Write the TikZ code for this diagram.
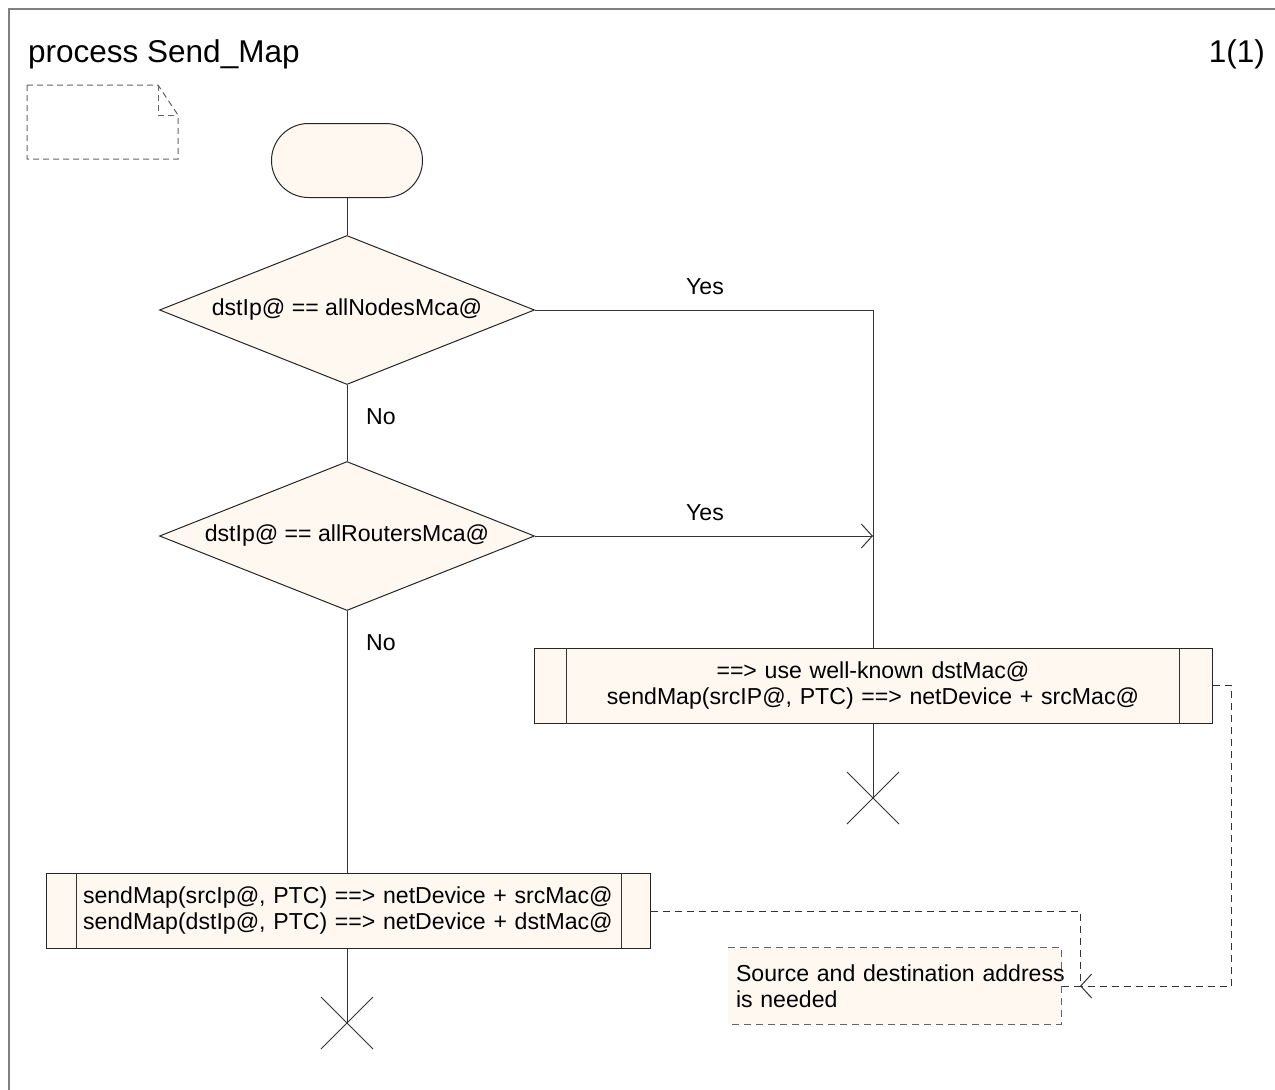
\documentclass[tikz,border=0pt]{standalone}
\usepackage{fontspec}
\setmainfont{Liberation Sans}
\usetikzlibrary{shapes.geometric,arrows.meta}

\definecolor{sdlfill}{RGB}{254,248,241}
\definecolor{framegray}{RGB}{128,128,128}
\definecolor{dashgray}{RGB}{100,100,100}

\begin{document}
\begin{tikzpicture}[x=1pt,y=-1pt,
  every node/.style={font=\fontsize{23.1}{26}\selectfont},
  flow/.style={line width=1pt, draw=black!80},
  sym/.style={draw=black!85, line width=1pt, fill=sdlfill},
  decision/.style={sym, diamond, aspect=2.5, inner sep=0pt,
                   minimum width=375pt, minimum height=149pt},
  startsym/.style={sym, rectangle, rounded corners=37pt,
                   minimum width=151pt, minimum height=74pt},
  proc/.style={sym, rectangle, inner ysep=0pt, minimum height=75pt},
  lbl/.style={inner sep=0pt},
  titletext/.style={inner sep=0pt, font=\fontsize{31.5}{36}\selectfont},
  notesym/.style={draw=dashgray, line width=1pt, dash pattern=on 6pt off 4pt},
  commentbox/.style={fill=sdlfill, inner xsep=8pt, inner ysep=0pt,
                     text width=317pt, align=left, minimum height=76pt},
  commentline/.style={draw=dashgray, line width=1pt, dash pattern=on 7pt off 5pt},
  conn/.style={draw=black!80, line width=1pt, dash pattern=on 7pt off 5pt},
  barb/.style={-{Straight Barb[length=11pt,width=24pt,line width=1pt]}}
]
  % page area and frame
  \useasboundingbox (0,0) rectangle (1275,1090);
  \clip (0,0) rectangle (1275,1090);
  \fill[white] (0,0) rectangle (1275,1090);
  \draw[framegray, line width=2pt] (9,9) rectangle (1320,1120);

  % heading
  \node[titletext, anchor=base west] (title) at (28,62) {process Send\_Map};
  \node[titletext, anchor=base east] (page) at (1265,62) {1(1)};

  % text symbol (empty declaration note)
  \draw[notesym] (27,85) -- (158,85) -- (178,115) -- (178,159) -- (27,159) -- cycle;
  \draw[notesym] (158,85) -- (158,115) -- (178,115);

  % symbols
  \node[startsym] (start) at (347,160.5) {};
  \node[decision] (d1) at (347,310) {dstIp@ == allNodesMca@};
  \node[decision] (d2) at (347,536) {dstIp@ == allRoutersMca@};

  \node[proc, minimum width=678pt, inner xsep=34pt, text width=610pt, align=center]
    (b1) at (873,685.5)
    {\mbox{==> use well-known dstMac@}\\\mbox{sendMap(srcIP@, PTC) ==> netDevice + srcMac@}};
  \draw[flow] ([xshift=33pt]b1.north west) -- ([xshift=33pt]b1.south west);
  \draw[flow] ([xshift=-33pt]b1.north east) -- ([xshift=-33pt]b1.south east);

  \node[proc, minimum width=604pt, inner xsep=37pt, text width=530pt, align=left]
    (b2) at (348,911)
    {\mbox{sendMap(srcIp@, PTC) ==> netDevice + srcMac@}\\\mbox{sendMap(dstIp@, PTC) ==> netDevice + dstMac@}};
  \draw[flow] ([xshift=31pt]b2.north west) -- ([xshift=31pt]b2.south west);
  \draw[flow] ([xshift=-29pt]b2.north east) -- ([xshift=-29pt]b2.south east);

  % comment
  \node[commentbox] (cm) at (894.5,986)
    {\mbox{Source and destination address}\\is needed};
  \draw[commentline] (cm.north west) -- (cm.north east) -- (cm.south east) -- (cm.south west);

  % branch labels
  \node[lbl] (yes1) at (705,287) {Yes};
  \node[lbl] (no1) at (381,416.5) {No};
  \node[lbl] (yes2) at (705,513) {Yes};
  \node[lbl] (no2) at (381,642.5) {No};

  % junctions and stops
  \coordinate (j1) at (873,310);
  \coordinate (j2) at (873,536);
  \coordinate (stop1) at (873,798);
  \coordinate (stop2) at (347,1023);
  \coordinate (k1) at (1080,986);

  % flow lines
  \draw[flow] (start) -- (d1);
  \draw[flow] (d1.east) -- (j1) -- (b1.north);
  \draw[flow] (d1.south) -- (d2.north);
  \draw[flow, barb] (d2.east) -- (j2);
  \draw[flow] (d2.south) -- (d2.south |- b2.north);
  \draw[flow] (b2.south -| stop2) -- (stop2);
  \draw[flow] (b1.south) -- (stop1);
  \draw[flow] (stop1) +(-26,-26) -- +(26,26) +(-26,26) -- +(26,-26);
  \draw[flow] (stop2) +(-26,-26) -- +(26,26) +(-26,26) -- +(26,-26);

  % comment connectors
  \draw[conn] (b2.east) -| (k1) -- (cm.east);
  \draw[conn, barb] (b1.east) -- ++(19,0) |- (k1);
\end{tikzpicture}
\end{document}
